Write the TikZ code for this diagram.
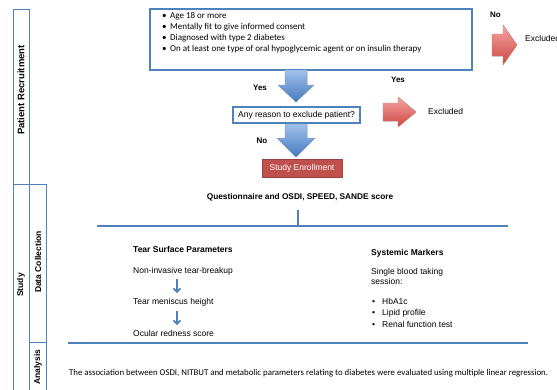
\documentclass[tikz,border=0pt]{standalone}
\usepackage{fontspec}
\setmainfont{Liberation Sans}
\newfontfamily\calfont{Carlito}
\usetikzlibrary{arrows.meta}
\definecolor{ofblue}{RGB}{79,129,189}
\definecolor{ofred}{RGB}{192,80,77}
\definecolor{lblue}{RGB}{160,194,236}
\definecolor{dblue}{RGB}{70,122,190}
\definecolor{lred}{RGB}{246,165,162}
\definecolor{dred}{RGB}{205,70,66}
\newcommand\bul{\makebox[8pt][l]{\textbullet}}
\begin{document}
\begin{tikzpicture}[x=1pt,y=-1pt,
  frame/.style={draw=ofblue, line width=0.7pt},
  sidelbl/.style={rotate=90, font=\fontsize{8.5}{10}\selectfont\bfseries, inner sep=0pt},
  txt/.style={font=\fontsize{8.5}{10}\selectfont, inner sep=0pt, anchor=west},
  btxt/.style={font=\fontsize{8.5}{10}\selectfont\bfseries, inner sep=0pt, anchor=west},
  lbl/.style={font=\fontsize{8}{10}\selectfont\bfseries, inner sep=0pt},
  bluearr/.style={top color=lblue, bottom color=dblue, draw=ofblue!70, line width=0.3pt},
  redarr/.style={top color=lred, bottom color=dred, draw=ofred!70, line width=0.3pt},
  sep/.style={draw=ofblue, line width=1.4pt},
  smallarr/.style={draw=ofblue, line width=1.6pt, -{Straight Barb[length=3.5pt,width=7pt]}}
]
\useasboundingbox (0,0) rectangle (557,389);
\fill[white] (0,0) rectangle (557,389);

% left columns
\draw[frame] (13,9) rectangle (29,184);
\draw[frame] (13,184) rectangle (29,395);
\draw[frame] (29,184) rectangle (46,342);
\draw[frame] (29,342) rectangle (46,395);
\node[sidelbl, font=\fontsize{9.5}{11}\selectfont\bfseries] (pr) at (21,90) {Patient Recruitment};
\node[sidelbl] (st) at (21,285) {Study};
\node[sidelbl] (dc) at (38,262) {Data Collection};
\node[sidelbl] (an) at (38,367) {Analysis};

% criteria box
\node[draw=ofblue, line width=1.6pt, minimum width=322pt, minimum height=61pt, inner sep=0pt] (crit) at (311,39.5) {};
\node[anchor=north west, align=left, inner sep=0pt, font=\calfont\fontsize{9}{11}\selectfont] (crittxt) at (162,12)
  {\bul Age 18 or more\\ \bul Mentally fit to give informed consent\\ \bul Diagnosed with type 2 diabetes\\ \bul On at least one type of oral hypoglycemic agent or on insulin therapy};

% No -> Excluded (top)
\node[lbl] (no1) at (495.5,15) {No};
\fill[redarr] (492,34) -- (503,34) -- (503,25) -- (517,45) -- (503,65) -- (503,56) -- (492,56) -- cycle;
\node[txt] (exc1) at (525,38) {Excluded};

% Yes down arrow
\node[lbl] (yes1) at (260,88) {Yes};
\fill[bluearr] (285,70) -- (307,70) -- (307,85) -- (314,85) -- (296,102) -- (278,85) -- (285,85) -- cycle;

% decision
\node[draw=ofblue, line width=1.3pt, minimum width=127pt, minimum height=16pt, inner sep=0pt,
  font=\fontsize{8.5}{10}\selectfont] (dec) at (296.5,115) {Any reason to exclude patient?};
\node[lbl] (yes2) at (398,80) {Yes};
\fill[redarr] (383,103) -- (398,103) -- (398,97) -- (416,112) -- (398,127) -- (398,121) -- (383,121) -- cycle;
\node[txt] (exc2) at (428,111) {Excluded};

% No down arrow
\node[lbl] (no2) at (262,141) {No};
\fill[bluearr] (285,124) -- (307,124) -- (307,138) -- (315,138) -- (296,157) -- (277,138) -- (285,138) -- cycle;

% Study enrollment
\node[fill=ofred, draw=ofred!80!black, line width=0.4pt, minimum width=80pt, minimum height=18pt, inner sep=0pt,
  text=white, font=\fontsize{8.5}{10}\selectfont] (enr) at (302,168) {Study Enrollment};

% Data collection
\node[lbl, font=\fontsize{8.3}{10}\selectfont\bfseries] (quest) at (300,197) {Questionnaire and OSDI, SPEED, SANDE score};
\coordinate (tl) at (97,226);
\coordinate (tr) at (508,226);
\coordinate (qv) at (298,226);
\draw[sep] (tl) -- (tr);
\draw[sep] (qv) -- ++(0,-16);

\node[btxt] (tsp) at (133,249) {Tear Surface Parameters};
\node[txt] (nit) at (133,271) {Non-invasive tear-breakup};
\node[txt] (tmh) at (133,302) {Tear meniscus height};
\node[txt] (ors) at (133,333) {Ocular redness score};
\coordinate (ax) at (177,300);
\draw[smallarr] (ax |- 0,279) -- (ax |- 0,293);
\draw[smallarr] (ax |- 0,311) -- (ax |- 0,325);

\node[btxt] (sm) at (371,253) {Systemic Markers};
\node[anchor=north west, align=left, inner sep=0pt, font=\fontsize{8.5}{9.5}\selectfont] (sbt) at (371,268.5) {Single blood taking\\session:};
\node[anchor=north west, align=left, inner sep=0pt, font=\fontsize{8.5}{11.5}\selectfont] (bl) at (372,298) {\makebox[10pt][l]{\textbullet}HbA1c\\ \makebox[10pt][l]{\textbullet}Lipid profile\\ \makebox[10pt][l]{\textbullet}Renal function test};

\coordinate (bl1) at (68,343);
\coordinate (bl2) at (528,343);
\draw[sep] (bl1) -- (bl2);

\node[anchor=west, inner sep=0pt, font=\calfont\fontsize{8.8}{10}\selectfont] (assoc) at (69,373) {The association between OSDI, NITBUT and metabolic parameters relating to diabetes were evaluated using multiple linear regression.};
\end{tikzpicture}
\end{document}
